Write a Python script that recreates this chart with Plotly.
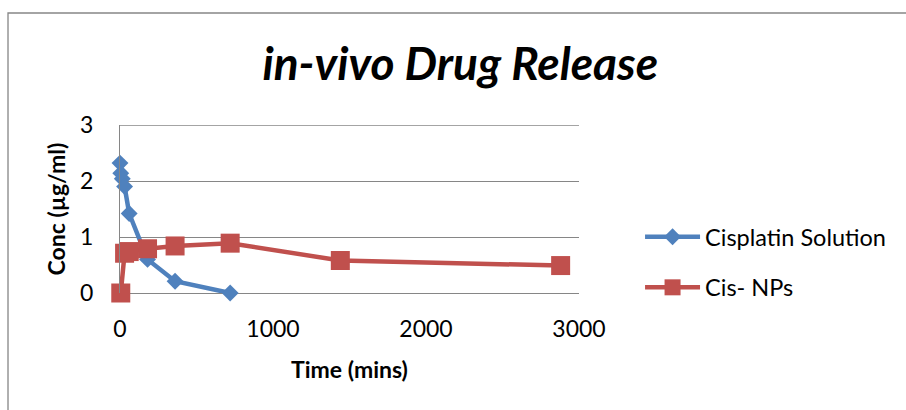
import plotly.graph_objects as go

# Sampling times (minutes) and plasma concentrations (µg/ml)
sol_time = [0, 5, 15, 30, 60, 180, 360, 720]
sol_conc = [2.32, 2.14, 2.04, 1.9, 1.42, 0.6, 0.21, 0.0]

np_time = [5, 30, 60, 180, 360, 720, 1440, 2880]
np_conc = [0.0, 0.71, 0.74, 0.79, 0.84, 0.89, 0.58, 0.49]

x_ticks = [0, 1000, 2000, 3000]
y_ticks = [0, 1, 2, 3]

BLUE = "#4F81BD"
RED = "#C0504D"
GRID = "#868686"
FONT = "Lato"

fig = go.Figure()
fig.add_trace(go.Scatter(
    x=sol_time, y=sol_conc, name="Cisplatin Solution", mode="lines+markers",
    line=dict(color=BLUE, width=4.5),
    marker=dict(symbol="diamond", size=13, color=BLUE),
    cliponaxis=False, legendgroup="a",
))
fig.add_trace(go.Scatter(
    x=np_time, y=np_conc, name="Cis- NPs", mode="lines+markers",
    line=dict(color=RED, width=4.5),
    marker=dict(symbol="square", size=19, color=RED),
    cliponaxis=False, legendgroup="b",
))

fig.update_layout(
    width=906, height=410,
    margin=dict(l=120, r=327, t=125, b=117, autoexpand=False),
    paper_bgcolor="white", plot_bgcolor="white",
    font=dict(family=FONT, color="black", size=23),
    title=dict(
        text="in-vivo Drug Release",
        font=dict(family=FONT, size=46, weight="bold", style="italic", color="black"),
        x=0.508, xref="container", xanchor="center",
        y=0.845, yref="container", yanchor="middle",
    ),
    xaxis=dict(
        range=[0, 3000], tickvals=x_ticks, showgrid=False, zeroline=False,
        showline=False, ticks="", tickfont=dict(size=23), ticklabelstandoff=20,
        title=dict(text="Time (mins)", font=dict(size=23, weight="bold"), standoff=20),
    ),
    yaxis=dict(
        range=[0, 3], tickvals=y_ticks, showgrid=True, gridcolor=GRID, gridwidth=1.3,
        zeroline=True, zerolinecolor=GRID, zerolinewidth=1.3,
        showline=True, linecolor=GRID, linewidth=1.3, ticks="",
        tickfont=dict(size=23), ticklabelstandoff=21,
        title=dict(text="Conc (µg/ml)", font=dict(size=23, weight="bold"), standoff=7),
    ),
    legend=dict(
        x=1.133, y=(293 - 215) / 168, xanchor="left", yanchor="top",
        font=dict(size=23.5), itemwidth=55, tracegroupgap=17,
        bgcolor="rgba(0,0,0,0)",
    ),
    shapes=[
        # outer chart frame
        dict(
            type="rect", xref="paper", yref="paper",
            x0=-0.244, x1=2.2, y0=-0.9, y1=(293 - 13) / 168,
            line=dict(color=GRID, width=1.3), fillcolor="rgba(0,0,0,0)", layer="below",
        ),
        # top gridline at the upper end of the value axis
        dict(
            type="line", xref="paper", yref="y",
            x0=0, x1=1, y0=y_ticks[-1], y1=y_ticks[-1],
            line=dict(color=GRID, width=1.3), layer="below",
        ),
    ],
)

fig.write_html("out.html")
